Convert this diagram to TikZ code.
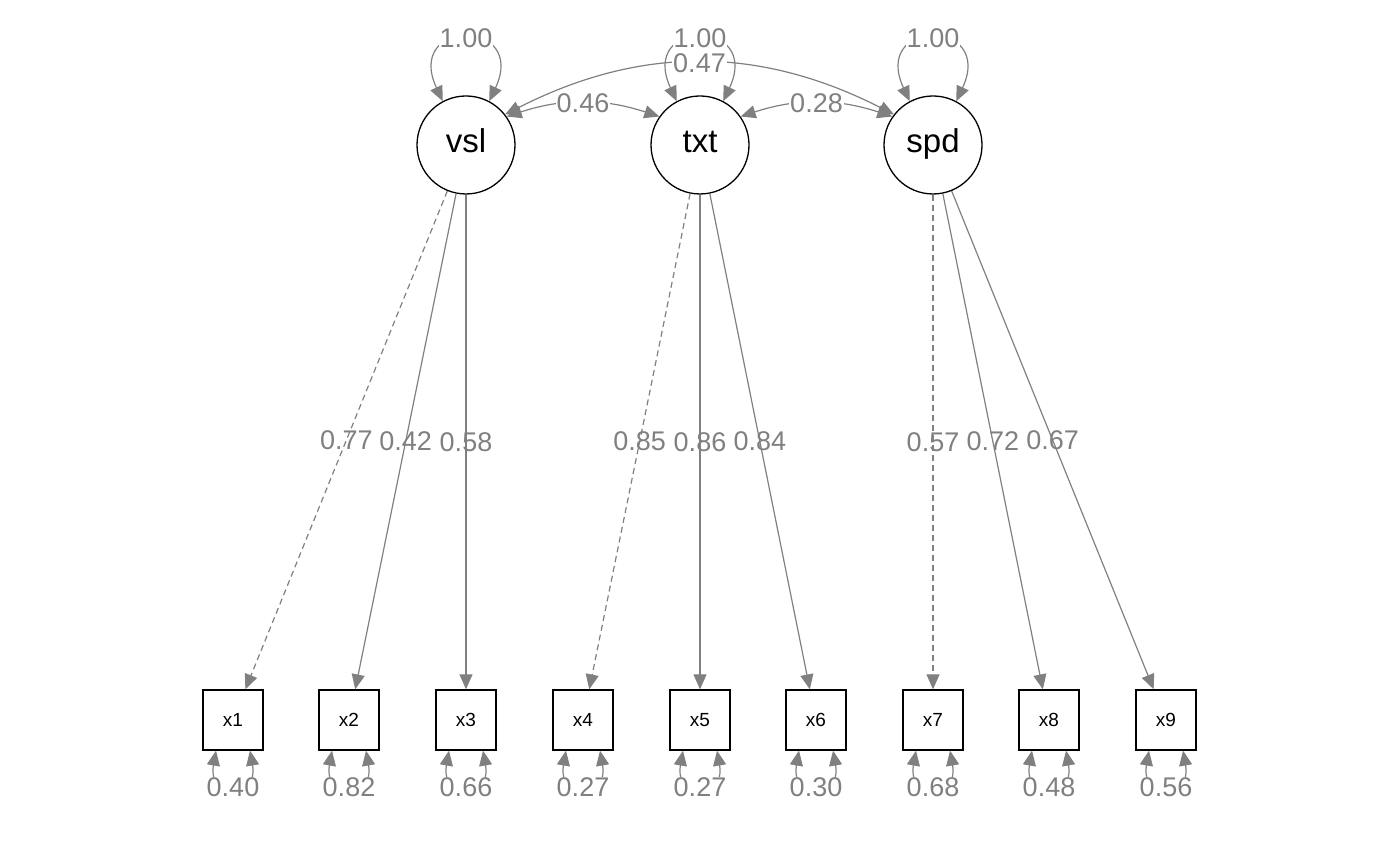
\documentclass[tikz,border=0pt]{standalone}
\usepackage{fontspec}
\setmainfont{Liberation Sans}
\usetikzlibrary{arrows.meta}

\begin{document}
\begin{tikzpicture}[x=0.5pt, y=0.5pt,
    latent/.style={draw, circle, line width=0.65pt, minimum size=49pt, inner sep=0pt, text height=0.72em, text depth=0pt, font=\fontsize{16.5}{18}\selectfont},
    manifest/.style={draw, rectangle, line width=0.65pt, minimum size=30pt, inner sep=0pt, font=\fontsize{9.5}{11}\selectfont},
    load/.style={gray, line width=0.6pt, -{Triangle[length=7.5pt,width=6.5pt]}},
    fixload/.style={load, dash pattern=on 3pt off 2pt},
    cov/.style={gray, line width=0.6pt, {Triangle[length=7.5pt,width=6.5pt]}-{Triangle[length=7.5pt,width=6.5pt]}},
    est/.style={text=gray, inner sep=0.5pt, font=\fontsize{13.5}{15}\selectfont},
    covest/.style={est, fill=white}]
    \useasboundingbox (0,0) rectangle (1400,865);
    % Latent factors
    \node[latent] (vsl) at (466,720) {vsl};
    \node[latent] (txt) at (700,720) {txt};
    \node[latent] (spd) at (933,720) {spd};
    % Indicators with residual variances
    \foreach \i/\xx/\r in {1/233/0.40, 2/349/0.82, 3/466/0.66, 4/583/0.27, 5/700/0.27,
                           6/816/0.30, 7/933/0.68, 8/1049/0.48, 9/1166/0.56} {
        \node[manifest] (x\i) at (\xx,145) {x\i};
        \draw[cov] ([xshift=-8.5pt]x\i.south) .. controls +(-100:50) and +(-80:50) ..
            node[covest, midway] {\r} ([xshift=8.5pt]x\i.south);
    }
    % Loadings
    \draw[fixload] (vsl) -- (x1) node[est, midway] {0.77};
    \draw[load] (vsl) -- (x2) node[est, midway] {0.42};
    \draw[load] (vsl) -- (x3) node[est, midway] {0.58};
    \draw[fixload] (txt) -- (x4) node[est, midway] {0.85};
    \draw[load] (txt) -- (x5) node[est, midway] {0.86};
    \draw[load] (txt) -- (x6) node[est, midway] {0.84};
    \draw[fixload] (spd) -- (x7) node[est, midway] {0.57};
    \draw[load] (spd) -- (x8) node[est, midway] {0.72};
    \draw[load] (spd) -- (x9) node[est, midway] {0.67};
    % Factor covariances
    \draw[cov] (vsl.38) to[out=27, in=153] node[covest, midway] {0.47} (spd.142);
    \draw[cov] (vsl.35) to[out=18, in=162] node[covest, midway] {0.46} (txt.145);
    \draw[cov] (txt.35) to[out=18, in=162] node[covest, midway] {0.28} (spd.145);
    % Factor variances
    \draw[cov] (vsl.118) .. controls +(115:92) and +(65:92) .. node[covest, midway] {1.00} (vsl.62);
    \draw[cov] (txt.118) .. controls +(115:92) and +(65:92) .. node[covest, midway] {1.00} (txt.62);
    \draw[cov] (spd.118) .. controls +(115:92) and +(65:92) .. node[covest, midway] {1.00} (spd.62);
\end{tikzpicture}
\end{document}
